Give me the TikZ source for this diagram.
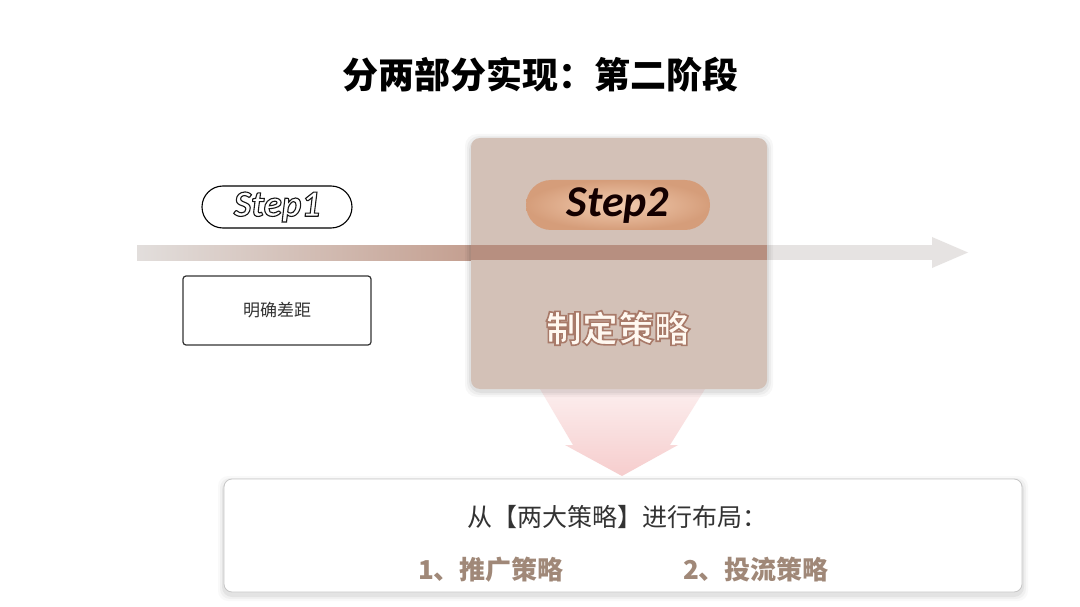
\documentclass[tikz,border=0pt]{standalone}
\usepackage{fontspec}
\newfontfamily\cjk{Noto Sans CJK SC}
\newfontfamily\stepfont{Carlito}
\usetikzlibrary{calc}
\definecolor{boxfill}{HTML}{D3C1B7}
\definecolor{barin}{HTML}{B78F80}
\definecolor{bargray}{HTML}{E6E3E2}
\definecolor{barl}{HTML}{E2DEDC}
\definecolor{barr}{HTML}{C49F90}
\definecolor{pillin}{HTML}{F2CCB0}
\definecolor{pillout}{HTML}{D59D7A}
\definecolor{creamtxt}{HTML}{FFF8F0}
\definecolor{brownline}{HTML}{A87A68}
\definecolor{listtxt}{HTML}{A08878}
\definecolor{darktxt}{HTML}{333333}
\definecolor{pinktop}{HTML}{FCEEEE}
\definecolor{pinkbot}{HTML}{F6CDCD}
% outlined text: #1 line width, #2 stroke colour (r g b), #3 text
\newcommand\outlinedtext[3]{\special{pdf:code #1 w #2 RG 2 Tr}#3\special{pdf:code 0 Tr 1 w}}
\tikzset{
  stepbox/.style={inner sep=0pt, minimum width=188pt, minimum height=69pt, rounded corners=3pt, draw=darktxt, line width=1.2pt, fill=white},
  bigbox/.style={inner sep=0pt, minimum width=296pt, minimum height=251pt, rounded corners=9pt, fill=boxfill},
  pillone/.style={inner sep=0pt, minimum width=150pt, minimum height=42pt, rounded corners=21pt, draw=black, line width=1.1pt, fill=white},
  pilltwo/.style={inner sep=0pt, minimum width=184pt, minimum height=50pt, rounded corners=25pt, inner color=pillin, outer color=pillout},
  infobox/.style={inner sep=0pt, minimum width=798pt, minimum height=113pt, rounded corners=8pt, draw=black!22, line width=0.8pt, fill=white},
  bigtxt/.style={font=\cjk\bfseries\fontsize{36}{36}\selectfont},
}
\begin{document}
\begin{tikzpicture}[x=1pt,y=-1pt]
\useasboundingbox[fill=white] (0,0) rectangle (1080,607);
% title
\node[font=\cjk\bfseries\fontsize{36}{36}\selectfont, text=black] (title) at (540,75) {分两部分实现：第二阶段};
% horizontal arrow
\fill[bargray] (137,245) rectangle (934,260);
\fill[bargray] (932,237) -- (968,252.5) -- (932,268) -- cycle;
\shade[left color=barl, right color=barr] (137,245) rectangle (471,260);
% down arrow
\shade[top color=pinktop, bottom color=pinkbot] (540,389) -- (573,445) -- (565,445) -- (622,476) -- (678,445) -- (670,445) -- (705,389) -- cycle;
% stage box
\foreach \e/\o in {6/0.03,4/0.04,2/0.05}
  \fill[black, opacity=\o, rounded corners=12pt] (471-\e,138-\e+2) rectangle (767+\e,389+\e+2);
\node[bigbox] (stage) at (619,263.5) {};
\fill[barin] (471,245) rectangle (767,260);
% step 1
\node[pillone] (p1) at (277,207) {};
\node[font=\stepfont\bfseries\itshape\fontsize{37}{37}\selectfont, text=white] (s1) at (p1) {\outlinedtext{1.1}{0.1 0.1 0.1}{Step1}};
% step 1 box
\node[stepbox] (gap) at (277,310.5) {};
\node[font=\cjk\fontsize{17}{17}\selectfont, text=darktxt] (gaptxt) at (gap) {明确差距};
% step 2
\node[pilltwo] (p2) at (618,205) {};
\node[font=\stepfont\bfseries\itshape\fontsize{44}{44}\selectfont, text=black!92!red] (s2) at (618,206) {Step2};
% stage text
\node[bigtxt, text=creamtxt] (stagetxt) at (618,328) {\outlinedtext{1.6}{0.66 0.48 0.41}{制定策略}};
% bottom box
\foreach \e/\o in {6/0.025,4/0.035,2/0.05}
  \fill[black, opacity=\o, rounded corners=10pt] (224-\e,479-\e+3) rectangle (1022+\e,592+\e+3);
\node[infobox] (info) at (623,535.5) {};
\node[font=\cjk\fontsize{25}{25}\selectfont, text=darktxt] (head) at (617,517) {从【两大策略】进行布局：};
\node[font=\cjk\bfseries\fontsize{26}{26}\selectfont, text=listtxt] (l1) at (491,570) {1、推广策略};
\node[font=\cjk\bfseries\fontsize{26}{26}\selectfont, text=listtxt] (l2) at (756,570) {2、投流策略};
\end{tikzpicture}
\end{document}
